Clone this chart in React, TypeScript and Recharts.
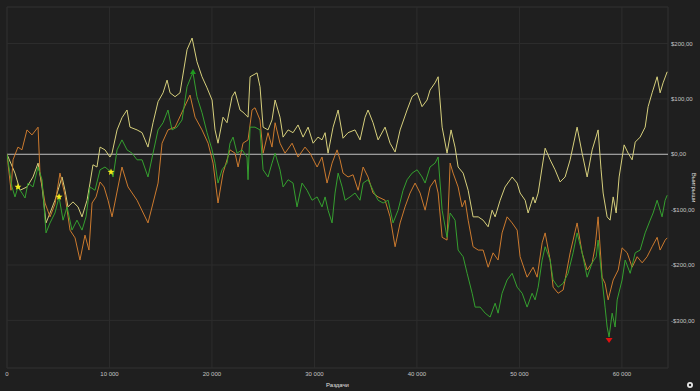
import React from 'react';
import {
  ComposedChart, Line, XAxis, YAxis, CartesianGrid, ReferenceLine, ReferenceDot, ReferenceArea,
} from 'recharts';

// hands played / winnings in $ for each curve
const yellowHands = [0, 780, 1270, 1950, 2540, 3030, 3420, 3810, 4200, 4680, 5370, 5660, 5950, 6440, 6930, 7320, 7810, 8100, 8390, 8780, 9080, 9560, 10050, 10250, 10740, 11220, 11710, 12000, 12690, 13180, 13760, 14250, 14740, 15230, 15620, 15910, 16400, 16880, 17570, 18060, 18540, 19030, 19520, 20010, 20300, 20590, 21080, 21470, 21960, 22250, 22740, 23030, 23520, 23720, 24400, 24690, 24990, 25470, 25860, 26160, 26640, 26940, 27430, 27910, 28400, 28890, 29380, 29870, 30350, 30740, 31040, 31330, 31820, 32310, 32790, 33280, 33960, 34450, 34940, 35230, 35720, 36210, 36890, 37380, 37870, 38360, 39040, 39530, 40020, 40500, 40990, 41280, 41770, 42070, 42460, 42940, 43330, 43720, 44020, 44510, 45000, 45480, 45980, 46460, 46950, 47340, 47630, 48120, 48600, 49290, 49780, 50070, 50560, 50850, 51340, 51530, 51830, 52220, 52510, 53000, 53480, 53970, 54460, 54950, 55630, 56120, 56610, 57100, 57680, 57970, 58170, 58560, 58850, 59150, 59440, 59730, 60220, 60610, 61000, 61300, 61780, 62270, 62560, 62950, 63440, 63730, 64020, 64420];
const yellowWins = [0, -34, -65, -59, -41, -16, -59, -124, -106, -83, -41, -65, -95, -86, -95, -113, -83, -52, -19, -23, 13, 8, -5, 2, 44, 66, 80, 49, 44, 39, 13, 57, 95, 111, 134, 111, 104, 111, 189, 210, 167, 140, 120, 98, 44, 20, 67, 57, 104, 113, 80, 76, 67, 140, 147, 122, 49, 44, 62, 98, 67, 31, 44, 39, 53, 31, 49, 20, 31, 26, 39, 2, 49, 80, 29, 39, 44, 26, 67, 80, 57, 26, 49, 20, 4, 44, 80, 104, 111, 86, 98, 116, 129, 140, 49, 2, 44, 13, -23, -34, -65, -113, -113, -119, -131, -101, -113, -83, -59, -41, -52, -70, -83, -106, -77, -88, -70, -23, 11, -10, -28, -50, -41, -10, 49, 2, -41, 8, 44, -28, -70, -113, -119, -77, -106, -41, 17, 2, -10, 22, 31, 49, 86, 111, 140, 111, 129, 149];

const orangeHands = [0, 390, 590, 1070, 1460, 1950, 2440, 3030, 3220, 3710, 4200, 4680, 5170, 5660, 6150, 6640, 7120, 7610, 8000, 8300, 8690, 9080, 9470, 9860, 10250, 11220, 11810, 12690, 13760, 14250, 14740, 15130, 15710, 16400, 17180, 17860, 18350, 19030, 19620, 20110, 20590, 21080, 21760, 22250, 22550, 23030, 23520, 23910, 24200, 24690, 24990, 25470, 25860, 26160, 26640, 27130, 27820, 28400, 29080, 29570, 30260, 30740, 31230, 31720, 32210, 32500, 32790, 33280, 33770, 34260, 34750, 35230, 35720, 36210, 36890, 37380, 37870, 38360, 38840, 39330, 39820, 40310, 40800, 41280, 41770, 42070, 42460, 42940, 43240, 43530, 44020, 44410, 44700, 45000, 45480, 45980, 46460, 46950, 47430, 47920, 48310, 48800, 49290, 49780, 50070, 50750, 51340, 51730, 52220, 52510, 53000, 53290, 53780, 54270, 54950, 55630, 56120, 56610, 57100, 57390, 57680, 58070, 58360, 58660, 59150, 59640, 60020, 60520, 61000, 61490, 61980, 62460, 62950, 63440, 63730, 64220, 64420];
const orangeWins = [0, -65, -10, 13, 8, 44, 35, 49, -34, -88, -113, -90, -34, -74, -137, -151, -191, -146, -173, -88, -77, -50, -59, -83, -113, -23, -59, -83, -124, -88, -52, 20, 44, 49, 80, 107, 67, 44, 20, -16, -88, -34, 8, 2, -23, 20, 26, 80, 84, 62, 2, 39, 13, 57, 20, 2, 20, -5, 13, 2, -23, -5, -52, -16, 8, -10, -34, -41, -37, -65, -23, -41, -70, -77, -83, -113, -167, -124, -95, -70, -52, -70, -101, -59, -46, -70, -150, -155, -16, -34, -59, -95, -83, -119, -167, -173, -173, -204, -178, -191, -142, -113, -124, -137, -185, -222, -204, -222, -160, -142, -191, -240, -251, -245, -178, -124, -178, -209, -196, -167, -113, -222, -233, -263, -227, -209, -169, -178, -204, -185, -196, -185, -167, -150, -173, -155, -151];

const greenHands = [0, 490, 780, 1070, 1460, 1760, 2050, 2540, 3030, 3420, 3810, 4200, 4680, 5080, 5470, 5860, 6340, 6830, 7320, 7710, 8100, 8590, 9080, 9560, 10150, 10350, 10740, 11220, 11710, 12200, 12690, 13180, 13760, 14250, 14740, 15230, 15710, 16100, 16590, 17080, 17570, 17960, 18150, 18540, 19030, 19520, 20010, 20300, 20590, 20980, 21470, 21760, 22060, 22450, 22940, 23420, 23520, 23720, 24200, 24690, 24990, 25470, 25860, 26160, 26640, 26940, 27430, 27910, 28300, 28790, 29280, 29770, 30260, 30740, 31040, 31330, 31720, 32010, 32310, 32700, 32990, 33480, 33960, 34450, 34750, 35230, 35720, 36210, 36700, 37190, 37670, 38160, 38650, 39040, 39530, 40020, 40500, 40800, 41280, 41770, 42070, 42460, 42940, 43240, 43720, 44020, 44510, 44900, 45390, 45680, 46170, 46660, 47140, 47630, 47920, 48310, 48800, 49290, 49780, 50270, 50750, 51240, 51530, 51830, 52220, 52510, 53000, 53290, 53780, 54270, 54750, 55240, 55630, 56120, 56610, 57100, 57490, 57680, 58070, 58360, 58560, 58750, 59050, 59340, 59540, 60020, 60320, 60810, 61300, 61780, 62270, 62760, 63050, 63440, 63920, 64220, 64420];
const greenWins = [0, -59, -77, -59, -70, -79, -52, -59, -23, -46, -142, -124, -106, -77, -119, -95, -137, -119, -137, -113, -59, -65, -28, -23, -32, -41, 8, 26, 8, 2, -10, -10, -41, 2, 44, 57, 80, 44, 49, 62, 122, 140, 147, 104, 75, 39, 8, -16, -52, -28, -16, 20, 31, 2, 8, -5, -46, 49, 49, 44, -28, -41, -16, 2, -28, -59, -46, -52, -95, -52, -65, -83, -77, -95, -77, -101, -124, -70, -34, -59, -83, -77, -70, -83, -52, -46, -65, -83, -88, -83, -124, -101, -65, -46, -34, -28, -41, -52, -23, -16, -5, -101, -150, -106, -119, -173, -185, -215, -251, -276, -276, -287, -294, -269, -287, -251, -227, -215, -240, -251, -276, -251, -263, -240, -191, -167, -191, -227, -240, -233, -215, -178, -142, -178, -222, -196, -185, -155, -227, -276, -312, -330, -287, -312, -263, -227, -191, -215, -178, -173, -142, -119, -106, -83, -113, -83, -74];

// markers on the green curve
const starHands = [1070, 5080, 10150];
const starWins = [-59, -77, -32];
const peakHand = 18150;
const peakWin = 147;
const lowHand = 58750;
const lowWin = -330;

const xTicks = [0, 10000, 20000, 30000, 40000, 50000, 60000];
const yTicks = [-300, -200, -100, 0, 100, 200];

const toRows = (hands: number[], wins: number[]) => hands.map((h, i) => ({ h, v: wins[i] }));
const yellowData = toRows(yellowHands, yellowWins);
const orangeData = toRows(orangeHands, orangeWins);
const greenData = toRows(greenHands, greenWins);

const GRID = '#2d2d2d';
const TXT = '#c4c4c4';
const FONT = '"Liberation Sans", Arial, sans-serif';

const fmtMoney = (v: number) => (v < 0 ? '-' : '') + '$' + Math.abs(v) + ',00';
const fmtHands = (v: number) => (v === 0 ? '0' : Math.round(v / 1000) + ' 000');

const Star = (props: any) => {
  const { cx, cy } = props;
  const pts: string[] = [];
  for (let i = 0; i < 10; i++) {
    const r = i % 2 === 0 ? 3.6 : 1.6;
    const a = -Math.PI / 2 + (i * Math.PI) / 5;
    pts.push(`${cx + r * Math.cos(a)},${cy + r * Math.sin(a)}`);
  }
  return <polygon points={pts.join(' ')} fill="#f2ea1a" />;
};

const TriUp = (props: any) => {
  const { cx, cy } = props;
  return <polygon points={`${cx - 3},${cy + 1} ${cx + 3},${cy + 1} ${cx},${cy - 4}`} fill="#1f9a1f" />;
};

const TriDown = (props: any) => {
  const { cx, cy } = props;
  return <polygon points={`${cx - 3.5},${cy + 1} ${cx + 3.5},${cy + 1} ${cx},${cy + 6}`} fill="#e01010" />;
};

const YTitle = (props: any) => {
  const { viewBox } = props;
  const x = viewBox.x + viewBox.width - 6;
  const y = viewBox.y + viewBox.height / 2;
  return (
    <text x={x} y={y} transform={`rotate(90 ${x} ${y})`} textAnchor="middle" dominantBaseline="central"
      fontSize={6} fill="#e0e0e0" fontFamily={FONT}>
      Выигрыши
    </text>
  );
};

export default function App() {
  return (
    <div style={{ position: 'fixed', left: 0, top: 0, width: 700, height: 391, background: '#1f1f1f' }}>
      <ComposedChart width={700} height={391} margin={{ top: 7, right: 0, left: 7, bottom: 0 }}>
        <CartesianGrid stroke={GRID} />
        <ReferenceArea x1={0} x2={64500} y1={-386} y2={266} fill="none" stroke={GRID} />
        <XAxis
          type="number"
          dataKey="h"
          domain={[0, 64500]}
          ticks={xTicks}
          tickFormatter={fmtHands}
          axisLine={false}
          tickLine={false}
          tickSize={0}
          tickMargin={4}
          height={23}
          tick={{ fontSize: 6, fill: TXT, fontFamily: FONT }}
          allowDataOverflow
          label={{ value: 'Раздачи', position: 'insideBottom', offset: 4, fontSize: 6, fill: '#e0e0e0', fontFamily: FONT }}
        />
        <YAxis
          orientation="right"
          type="number"
          domain={[-386, 266]}
          ticks={yTicks}
          tickFormatter={fmtMoney}
          axisLine={false}
          tickLine={false}
          tickSize={0}
          tickMargin={3}
          width={32}
          tick={{ fontSize: 6, fill: TXT, fontFamily: FONT, textAnchor: 'start' }}
          allowDataOverflow
          label={<YTitle />}
        />
        <ReferenceLine y={0} stroke="#bdbdbd" strokeWidth={1} />
        <Line data={yellowData} dataKey="v" type="linear" stroke="#d6cf7c" strokeWidth={1} dot={false} isAnimationActive={false} />
        <Line data={orangeData} dataKey="v" type="linear" stroke="#cc7a2e" strokeWidth={1} dot={false} isAnimationActive={false} />
        <Line data={greenData} dataKey="v" type="linear" stroke="#35a02f" strokeWidth={1} dot={false} isAnimationActive={false} />
        {starHands.map((h, i) => (
          <ReferenceDot key={h} x={h} y={starWins[i]} shape={<Star />} />
        ))}
        <ReferenceDot x={peakHand} y={peakWin} shape={<TriUp />} />
        <ReferenceDot x={lowHand} y={lowWin} shape={<TriDown />} />
      </ComposedChart>
      <svg style={{ position: 'absolute', left: 686, top: 381 }} width={8} height={8}>
        <circle cx={4} cy={4} r={3} fill="#e6e6e6" />
        <circle cx={4} cy={4} r={1.2} fill="#1f1f1f" />
      </svg>
    </div>
  );
}
